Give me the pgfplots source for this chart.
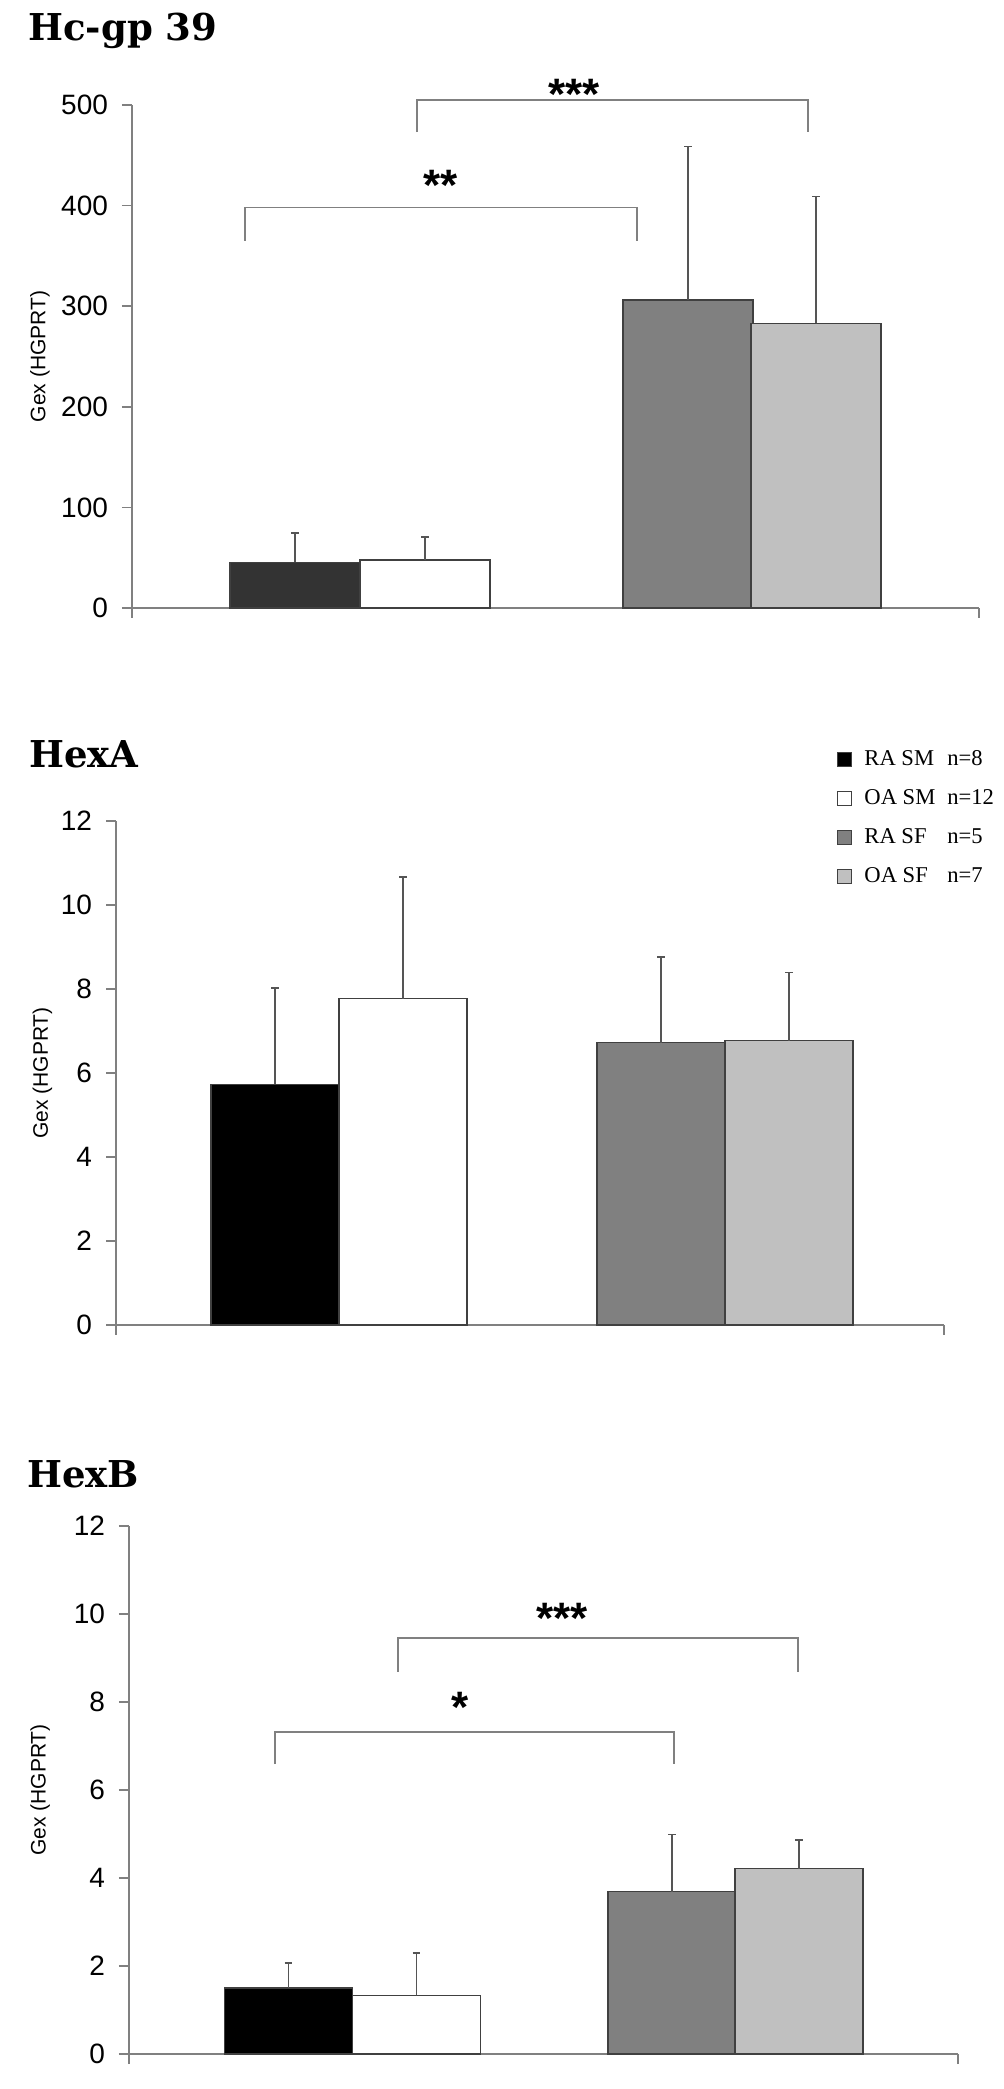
\documentclass[border=0pt]{standalone}
\usepackage{pgfplots}
\pgfplotsset{compat=1.18}
\usepackage{fontspec}
\setmainfont{Liberation Sans}
\newfontfamily\titlefont{DejaVu Serif}
\newfontfamily\legfont{Liberation Serif}
\definecolor{axgray}{HTML}{808080}
\definecolor{bardark}{HTML}{808080}
\definecolor{barlight}{HTML}{C0C0C0}
\definecolor{edgegray}{HTML}{404040}
\definecolor{errgray}{HTML}{555555}
\definecolor{darkbar}{HTML}{333333}

\pgfplotsset{
  gexaxis/.style={
    scale only axis,
    axis x line*=bottom, axis y line*=left,
    axis line style={draw=axgray, line width=0.8pt, -},
    every tick/.style={draw=axgray, line width=0.8pt},
    tick align=outside,
    major tick length=5pt,
    xticklabels={\relax,\relax},
    ymin=0,
    ybar, bar width=128,
    clip=false,
    enlargelimits=false,
    ylabel={Gex (HGPRT)},
    every axis y label/.style={rotate=90, anchor=center, font=\fontsize{10.5pt}{10.5pt}\selectfont},
    yticklabel style={font=\fontsize{14pt}{14pt}\selectfont, xshift=-3.5pt, /pgf/number format/assume math mode=true},
  },
  B/.style={draw=edgegray, line width=0.7pt, bar shift=0pt, forget plot,
    error bars/y dir=plus, error bars/y explicit,
    error bars/error mark=-,
    error bars/error bar style={draw=errgray, line width=0.6pt},
    error bars/error mark options={rotate=90, draw=errgray, line width=0.8pt, mark size=1.9pt}},
  sq/.style={legend image code/.code={\draw[##1, draw=edgegray, line width=0.5pt] (0pt,-3.5pt) rectangle (7pt,3.5pt);}},
}

\begin{document}
\begin{tikzpicture}
\path[use as bounding box] (0,0) rectangle (502pt,1044.5pt);

% ---------- Panel 1: Hc-gp 39
\node[anchor=base west, inner sep=0pt, font=\titlefont\bfseries\fontsize{18.5pt}{18.5pt}\selectfont] at (14pt,1024pt) {Hc-gp 39};
\begin{axis}[gexaxis, at={(66pt,740.5pt)}, anchor=south west,
  width=423.5pt, height=251.5pt,
  xmin=132, xmax=979, ymax=500, xtick={132,979},
  ytick={0,100,200,300,400,500}, bar width=130,
  ylabel style={at={(axis description cs:-0.1086,0.5)}}]
\addplot[B, fill=darkbar] coordinates {(295,45.5) +- (0,29.2)};
\addplot[B, fill=white] coordinates {(425,47.5) +- (0,23.1)};
\addplot[B, fill=bardark] coordinates {(688,306) +- (0,152.6)};
\addplot[B, fill=barlight] coordinates {(816,283) +- (0,126)};
\draw[axgray, line width=0.8pt] (245,365) -- (245,398) -- (637,398) -- (637,365);
\draw[axgray, line width=0.8pt] (417,473) -- (417,505) -- (808,505) -- (808,473);
\node[anchor=base, inner sep=0pt, font=\bfseries\fontsize{22pt}{22pt}\selectfont] at (441,405.5) {**};
\node[anchor=base, inner sep=0pt, font=\bfseries\fontsize{22pt}{22pt}\selectfont] at (574,495.5) {***};
\end{axis}

% ---------- Panel 2: HexA
\node[anchor=base west, inner sep=0pt, font=\titlefont\bfseries\fontsize{18.5pt}{18.5pt}\selectfont] at (14.5pt,660.5pt) {HexA};
\begin{axis}[gexaxis, at={(58pt,382pt)}, anchor=south west,
  width=414pt, height=252pt,
  xmin=116, xmax=944, ymax=12, xtick={116,944},
  ytick={0,2,4,6,8,10,12},
  ylabel style={at={(axis description cs:-0.0888,0.5)}},
  legend style={draw=none, fill=none, at={(0.8708,1.142)}, anchor=north west,
    inner sep=0pt, row sep=9.4pt, legend cell align=left,
    nodes={inner sep=0pt, text height=8pt, text depth=2pt},
    font=\legfont\fontsize{11.3pt}{11.3pt}\selectfont}]
\addplot[B, fill=black] coordinates {(275,5.73) +- (0,2.30)};
\addplot[B, fill=white] coordinates {(403,7.77) +- (0,2.90)};
\addplot[B, fill=bardark] coordinates {(661,6.72) +- (0,2.04)};
\addplot[B, fill=barlight] coordinates {(789,6.77) +- (0,1.62)};
\addlegendimage{sq, fill=black}
\addlegendentry{\hspace*{6pt}\makebox[41.5pt][l]{RA SM}n=8}
\addlegendimage{sq, fill=white}
\addlegendentry{\hspace*{6pt}\makebox[41.5pt][l]{OA SM}n=12}
\addlegendimage{sq, fill=bardark}
\addlegendentry{\hspace*{6pt}\makebox[41.5pt][l]{RA SF}n=5}
\addlegendimage{sq, fill=barlight}
\addlegendentry{\hspace*{6pt}\makebox[41.5pt][l]{OA SF}n=7}
\end{axis}

% ---------- Panel 3: HexB
\node[anchor=base west, inner sep=0pt, font=\titlefont\bfseries\fontsize{18.5pt}{18.5pt}\selectfont] at (13.5pt,300.5pt) {HexB};
\begin{axis}[gexaxis, at={(64.5pt,17.5pt)}, anchor=south west,
  width=414.5pt, height=264pt,
  xmin=129, xmax=958, ymax=12, xtick={129,958},
  ytick={0,2,4,6,8,10,12},
  ylabel style={at={(axis description cs:-0.107,0.5)}}]
\addplot[B, fill=black] coordinates {(288.5,1.50) +- (0,0.57)};
\addplot[B, fill=white] coordinates {(416.5,1.33) +- (0,0.97)};
\addplot[B, fill=bardark] coordinates {(672,3.69) +- (0,1.30)};
\addplot[B, fill=barlight] coordinates {(799,4.21) +- (0,0.66)};
\draw[axgray, line width=0.8pt] (275,6.59) -- (275,7.32) -- (674,7.32) -- (674,6.59);
\draw[axgray, line width=0.8pt] (398,8.69) -- (398,9.45) -- (798,9.45) -- (798,8.69);
\node[anchor=base, inner sep=0pt, font=\bfseries\fontsize{22pt}{22pt}\selectfont] at (460,7.53) {*};
\node[anchor=base, inner sep=0pt, font=\bfseries\fontsize{22pt}{22pt}\selectfont] at (562,9.56) {***};
\end{axis}
\end{tikzpicture}
\end{document}
